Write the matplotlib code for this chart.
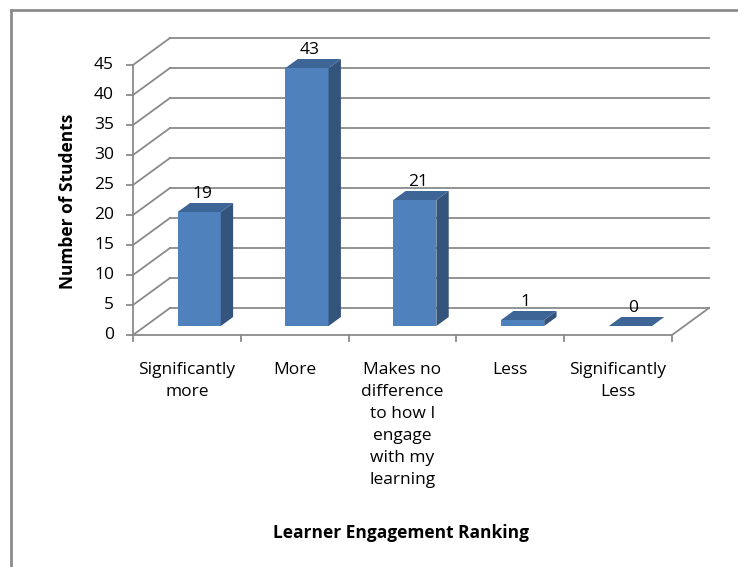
import matplotlib.pyplot as plt
from matplotlib.patches import Polygon
from matplotlib.lines import Line2D

# chart data
categories = ["Significantly\nmore", "More",
              "Makes no\ndifference\nto how I\nengage\nwith my\nlearning",
              "Less", "Significantly\nLess"]
students = [19, 43, 21, 1, 0]
y_ticks = list(range(0, 50, 5))

W, H = 738, 567
plt.rcParams['font.family'] = ['Open Sans', 'DejaVu Sans']
fs = 12.5

fig = plt.figure(figsize=(W / 100, H / 100), dpi=100)
ax = fig.add_axes([0, 0, 1, 1])
ax.axis('off')

# front plane of the fake 3d box, in pixels
x0_px, x1_px = 133, 672
y0_px, ytop_px = 335, 65
n = len(categories)
ymax = y_ticks[-1]
sx = (x1_px - x0_px) / n          # px per category
sy = (y0_px - ytop_px) / ymax     # px per student
ax.set_xlim(-0.5 - x0_px / sx, -0.5 + (W - x0_px) / sx)
ax.set_ylim(-(H - y0_px) / sy, y0_px / sy)

# depth offset of the back wall
dx = 37 / sx
dy = 27 / sy

grid_col = '#8a8a8a'
left = -0.5
right = n - 0.5

# gridlines on back and left walls
for t in y_ticks:
    ax.plot([left, left + dx], [t, t + dy], color=grid_col, lw=1.3, zorder=1)
    ax.plot([left + dx, right + dx], [t + dy, t + dy], color=grid_col, lw=1.3, zorder=1)
    ax.plot([left - 6 / sx, left], [t, t], color=grid_col, lw=1.3, zorder=1)
    ax.text(left - 19 / sx, t, str(t), ha='right', va='center', fontsize=fs)

# front axes
ax.plot([left, left], [0, ymax], color=grid_col, lw=1.3, zorder=2)
ax.plot([left, right], [0, 0], color=grid_col, lw=1.3, zorder=2)
ax.plot([right, right + dx], [0, dy], color=grid_col, lw=1.3, zorder=2)
for b in range(n + 1):
    ax.plot([b - 0.5, b - 0.5], [0, -6 / sy], color=grid_col, lw=1.3, zorder=2)

# bars: front face + side + top
w = 0.4
xs = [i + dx / 3 for i in range(n)]
base = dy / 3
ax.bar(xs, students, width=w, bottom=base, color='#4f81bd', zorder=3)
for x, v in zip(xs, students):
    top = v + base
    xr = x + w / 2
    xl = x - w / 2
    side = Polygon([(xr, base), (xr + dx / 3, base + dy / 3),
                    (xr + dx / 3, top + dy / 3), (xr, top)],
                   closed=True, facecolor='#34547c', edgecolor='none', zorder=3)
    lid = Polygon([(xl, top), (xr, top), (xr + dx / 3, top + dy / 3),
                   (xl + dx / 3, top + dy / 3)],
                  closed=True, facecolor='#3d6596', edgecolor='none', zorder=4)
    ax.add_patch(side)
    ax.add_patch(lid)
    ax.text(x + dx / 12, top + dy / 3 + 0.2, str(v), ha='center', va='bottom',
            fontsize=fs, zorder=5)

# category labels
for i, c in enumerate(categories):
    ax.text(i, -(362 - y0_px) / sy, c, ha='center', va='top', fontsize=fs,
            linespacing=1.5)

fig.text(68 / W, 1 - 201 / H, 'Number of Students', rotation=90,
         fontweight='bold', ha='center', va='center', fontsize=fs)
fig.text(401 / W, 1 - 533 / H, 'Learner Engagement Ranking',
         fontweight='bold', ha='center', va='center', fontsize=fs)

# chart frame (left and top edges only)
fig.add_artist(Line2D([11 / W, 11 / W], [0, 1 - 10 / H], transform=fig.transFigure,
                      color='#8c8c8c', lw=2))
fig.add_artist(Line2D([11 / W, 1], [1 - 10 / H, 1 - 10 / H], transform=fig.transFigure,
                      color='#8c8c8c', lw=2))

fig.savefig('out.png', dpi=100)
